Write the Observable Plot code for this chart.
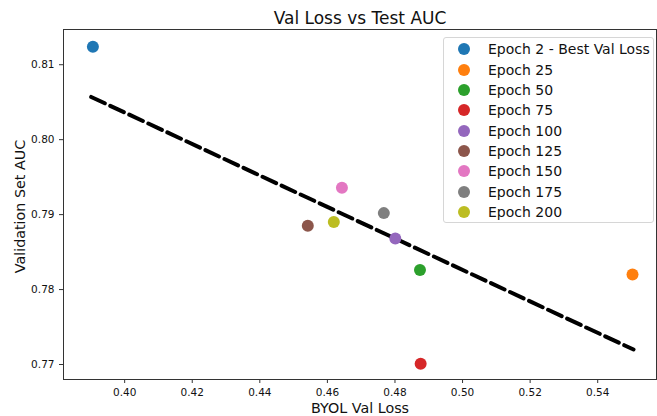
<!DOCTYPE html>
<html><head><meta charset="utf-8">
<script src="https://cdn.jsdelivr.net/npm/d3@7"></script>
<script src="https://cdn.jsdelivr.net/npm/@observablehq/plot@0.6"></script>
<style>
body{margin:0;background:#fff;font-family:"DejaVu Sans",sans-serif;}
#wrap{position:relative;width:657px;height:416px;}
#legend{position:absolute;left:443px;top:37px;width:211px;height:186px;border:1px solid #d6d6d6;border-radius:3px;box-sizing:border-box;background:rgba(255,255,255,0.8);}
.row{position:absolute;left:0;height:20px;line-height:20px;font-size:14px;color:#111;white-space:nowrap;}
.sw{position:absolute;left:14px;top:4px;width:12px;height:12px;border-radius:50%;}
.lb{position:absolute;left:44px;top:0;}
</style></head>
<body><div id="wrap"><div id="legend"></div></div>
<script>
const epochs = ["Epoch 2 - Best Val Loss","Epoch 25","Epoch 50","Epoch 75","Epoch 100","Epoch 125","Epoch 150","Epoch 175","Epoch 200"];
const valLoss = [0.3906, 0.5503, 0.4874, 0.4876, 0.4801, 0.4542, 0.4643, 0.4767, 0.4619];
const auc = [0.8124, 0.7820, 0.7826, 0.7701, 0.7868, 0.7885, 0.7936, 0.7902, 0.7890];
const colors = ["#1f77b4","#ff7f0e","#2ca02c","#d62728","#9467bd","#8c564b","#e377c2","#7f7f7f","#bcbd22"];
const fitX = [0.3901, 0.5506];
const fitY = [0.8057, 0.7720];
const xTicks = [0.40,0.42,0.44,0.46,0.48,0.50,0.52,0.54];
const yTicks = [0.77,0.78,0.79,0.80,0.81];

const points = epochs.map((e,i)=>({epoch:e, x:valLoss[i], y:auc[i]}));
const fit = fitX.map((x,i)=>({x, y:fitY[i]}));

const plot = Plot.plot({
  width: 657, height: 416,
  marginLeft: 63, marginRight: 1, marginTop: 29, marginBottom: 37,
  x: {domain:[0.3819, 0.5574]},
  y: {domain:[0.768, 0.8147]},
  color: {domain: epochs, range: colors},
  style: {fontFamily:"DejaVu Sans", fontSize:"10.5px", color:"#111", background:"#fff"},
  marks: [
    Plot.axisX({ticks:xTicks, tickFormat:".2f", tickSize:4, label:null, stroke:"#333"}),
    Plot.axisY({ticks:yTicks, tickFormat:".2f", tickSize:4, label:null, stroke:"#333"}),
    Plot.frame({stroke:"#333", strokeWidth:1}),
    Plot.line(fit, {x:"x", y:"y", stroke:"black", strokeWidth:4, strokeDasharray:"15,6"}),
    Plot.dot(points, {x:"x", y:"y", fill:"epoch", r:6}),
    Plot.text(["Val Loss vs Test AUC"], {frameAnchor:"top", dy:-11, fontSize:17, lineAnchor:"middle", fill:"#111"}),
    Plot.text(["BYOL Val Loss"], {frameAnchor:"bottom", dy:29, fontSize:14.3, lineAnchor:"middle", fill:"#111"}),
    Plot.text(["Validation Set AUC"], {frameAnchor:"left", dx:-43, dy:2, rotate:-90, fontSize:14.3, textAnchor:"middle", lineAnchor:"middle", fill:"#111"})
  ]
});
document.getElementById("wrap").prepend(plot);

const leg = document.getElementById("legend");
const rowY = [1, 22, 42, 62, 82.5, 103, 123, 143.5, 164];
epochs.forEach((e,i)=>{
  const r = document.createElement("div");
  r.className="row"; r.style.top = rowY[i]+"px";
  const s = document.createElement("div"); s.className="sw"; s.style.background = colors[i];
  const l = document.createElement("div"); l.className="lb"; l.textContent = e;
  r.appendChild(s); r.appendChild(l); leg.appendChild(r);
});
</script></body></html>
